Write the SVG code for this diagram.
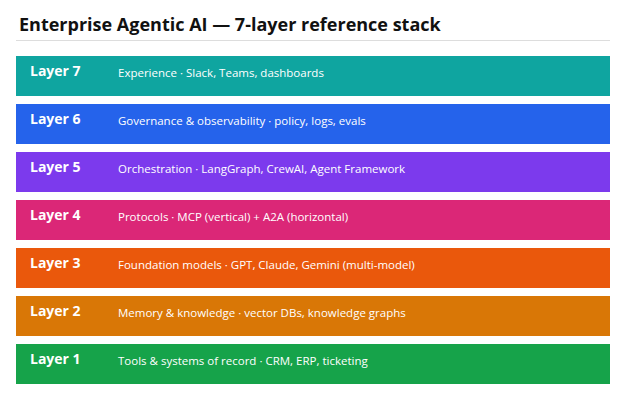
<svg xmlns="http://www.w3.org/2000/svg" width="626" height="417" viewBox="0 0 626 417">
<style>
.t{font-family:"Segoe UI","Open Sans","Noto Sans",sans-serif;font-size:18px;font-weight:bold;fill:#111}
.l{font-family:"Segoe UI","Open Sans","Noto Sans",sans-serif;font-size:14px;font-weight:bold;fill:#fff}
.d{font-family:"Segoe UI","Open Sans","Noto Sans",sans-serif;font-size:11.5px;fill:#fff}
</style>
<rect width="626" height="417" fill="#fff"/>
<text class="t" x="19" y="31">Enterprise Agentic AI — 7-layer reference stack</text>
<line x1="16" y1="40.5" x2="610" y2="40.5" stroke="#ddd"/>
<g id="layer7"><rect x="16" y="56" width="594" height="40" fill="#0fa5a0"/><text class="l" x="30" y="76">Layer 7</text><text class="d" x="118" y="77">Experience  ·  Slack, Teams, dashboards</text></g>
<g id="layer6"><rect x="16" y="104" width="594" height="40" fill="#2563eb"/><text class="l" x="30" y="124">Layer 6</text><text class="d" x="118" y="125">Governance &amp; observability  ·  policy, logs, evals</text></g>
<g id="layer5"><rect x="16" y="152" width="594" height="40" fill="#7c3aed"/><text class="l" x="30" y="172">Layer 5</text><text class="d" x="118" y="173">Orchestration  ·  LangGraph, CrewAI, Agent Framework</text></g>
<g id="layer4"><rect x="16" y="200" width="594" height="40" fill="#db2777"/><text class="l" x="30" y="220">Layer 4</text><text class="d" x="118" y="221">Protocols  ·  MCP (vertical) + A2A (horizontal)</text></g>
<g id="layer3"><rect x="16" y="248" width="594" height="40" fill="#ea580c"/><text class="l" x="30" y="268">Layer 3</text><text class="d" x="118" y="269">Foundation models  ·  GPT, Claude, Gemini (multi-model)</text></g>
<g id="layer2"><rect x="16" y="296" width="594" height="40" fill="#d97706"/><text class="l" x="30" y="316">Layer 2</text><text class="d" x="118" y="317">Memory &amp; knowledge  ·  vector DBs, knowledge graphs</text></g>
<g id="layer1"><rect x="16" y="344" width="594" height="40" fill="#16a34a"/><text class="l" x="30" y="364">Layer 1</text><text class="d" x="118" y="365">Tools &amp; systems of record  ·  CRM, ERP, ticketing</text></g>
<g id="connectors"/>
</svg>
